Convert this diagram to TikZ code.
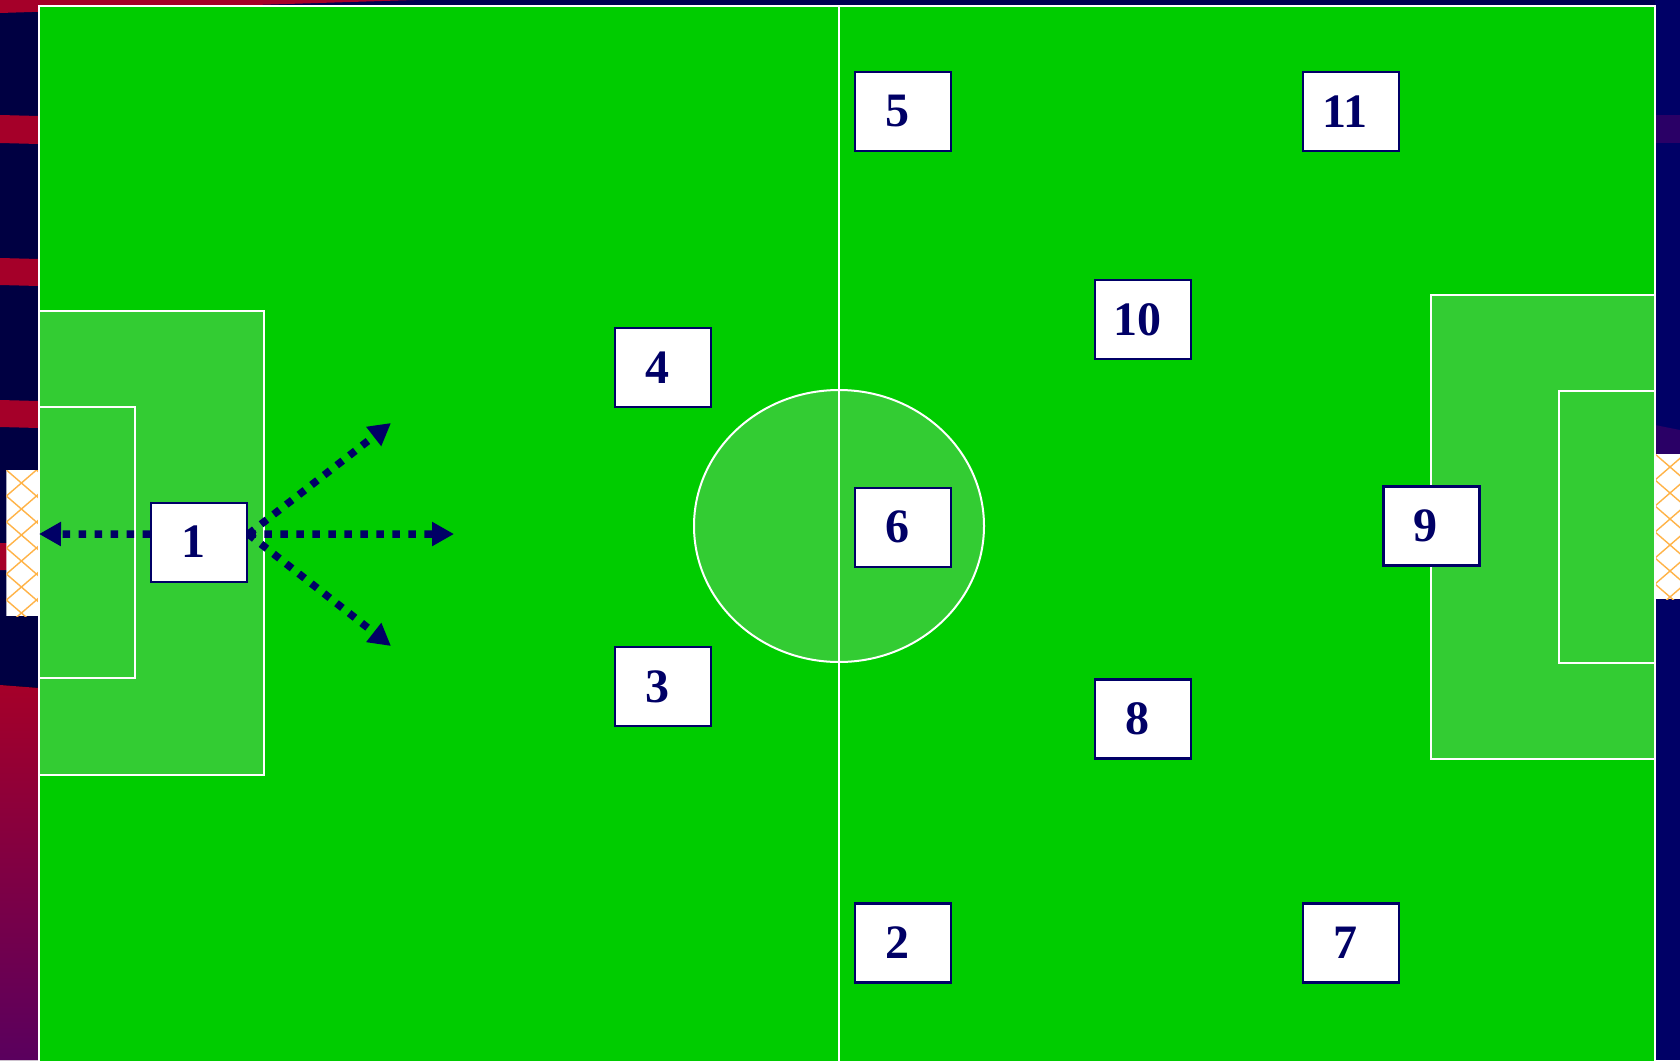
\documentclass[tikz,border=0pt]{standalone}
\usepackage{fontspec}
\setmainfont{Liberation Serif}
\usepackage{tikz}
\usetikzlibrary{positioning,arrows.meta}

\definecolor{pitchgreen}{HTML}{00CC00}
\definecolor{boxgreen}{HTML}{33CC33}
\definecolor{teamnavy}{HTML}{000066}
\definecolor{darknavy}{HTML}{000042}
\definecolor{topnavy}{HTML}{000052}
\definecolor{stripered}{HTML}{A50029}
\definecolor{stripeplum}{HTML}{5A005E}
\definecolor{stripeviolet}{HTML}{2A0066}
\definecolor{netorange}{HTML}{FFB347}

\begin{document}
\begin{tikzpicture}[x=1pt, y=-1pt,
    pitchline/.style={draw=white, line width=2pt},
    area/.style={pitchline, fill=boxgreen},
    player/.style={draw=teamnavy, line width=2.2pt, fill=white, text=teamnavy,
        minimum width=96pt, minimum height=79pt, inner sep=0pt,
        font=\fontsize{48}{48}\selectfont\bfseries},
    run/.style={teamnavy, line width=7.5pt, dash pattern=on 7.5pt off 8.5pt,
        -{Triangle[length=22pt,width=23pt]}},
    netmesh/.style={netorange, line width=1.4pt}]
\useasboundingbox (0,0) rectangle (1680,1060);

% stands round the pitch
\fill[darknavy] (0,0) rectangle (1680,1060);
\fill[topnavy] (38.6,0) rectangle (1655,6.4);
\fill[teamnavy] (1655,0) rectangle (1680,1060);
\fill[stripered] (0,0) -- (414,0) -- (0,13) -- cycle;
\foreach \ya/\yb in {115/143, 258/285, 400/427, 543/570}
    \fill[stripered] (0,\ya) -- (38.6,\ya+1) -- (38.6,\yb+1) -- (0,\yb) -- cycle;
\fill[top color=stripered, bottom color=stripeplum] (0,685) -- (38.6,688) -- (38.6,1060) -- (0,1060) -- cycle;
\fill[stripeviolet] (1655,115) rectangle (1680,143);
\fill[stripeviolet] (1655,425) -- (1680,430) -- (1680,454) -- (1655,454) -- cycle;

% goals
\begin{scope}
    \clip (6.4,470) rectangle (38.6,616);
    \fill[white] (6.4,470) rectangle (38.6,616);
    \foreach \k in {-3,...,8} {
        \draw[netmesh] (6.4,470+\k*26) -- ++(32.2,27.9);
        \draw[netmesh] (6.4,470+\k*26) -- ++(32.2,-27.9);
    }
\end{scope}
\begin{scope}
    \clip (1655,454) rectangle (1680,599);
    \fill[white] (1655,454) rectangle (1680,599);
    \foreach \k in {-3,...,8} {
        \draw[netmesh] (1655,454+\k*26) -- ++(32.2,27.9);
        \draw[netmesh] (1655,454+\k*26) -- ++(32.2,-27.9);
    }
\end{scope}

% pitch
\fill[pitchgreen] (38.6,6.4) rectangle (1655,1070);
\filldraw[area] (38.6,310.7) rectangle (263.6,774.6);
\filldraw[area] (38.6,407) rectangle (135,678);
\filldraw[area] (1430.7,294.6) rectangle (1655,758.6);
\filldraw[area] (1558.7,391) rectangle (1655,663);
\filldraw[area] (839,526) ellipse [x radius=145pt, y radius=136pt];
\draw[pitchline] (839,6.4) -- (839,1070);
\draw[pitchline] (38.6,1070) -- (38.6,6.4) -- (1655,6.4) -- (1655,1070);

% players
\foreach \num/\px/\py in {1/199.3/542.1, 4/663.2/367.5, 3/663.2/686.8,
        5/903.2/111.4, 6/903.2/527.1, 2/903.2/942.9, 10/1143.2/319.3,
        8/1143.2/718.9, 11/1351/111.4, 7/1351/942.9, 9/1431.4/526}
    \node[player] (p\num) at (\px,\py) {\num\hspace*{12pt}};

% goalkeeper distribution
\coordinate (kick) at ([yshift=8pt]p1.east);
\coordinate (back) at ([yshift=8pt]p1.west);
\coordinate (goalline) at (39,534);
\coordinate (passup) at (391,423);
\coordinate (passmid) at (454,534);
\coordinate (passdown) at (391,646);
\draw[run] (back) -- (goalline);
\foreach \target in {passup,passmid,passdown}
    \draw[run] (kick) -- (\target);

\end{tikzpicture}
\end{document}
